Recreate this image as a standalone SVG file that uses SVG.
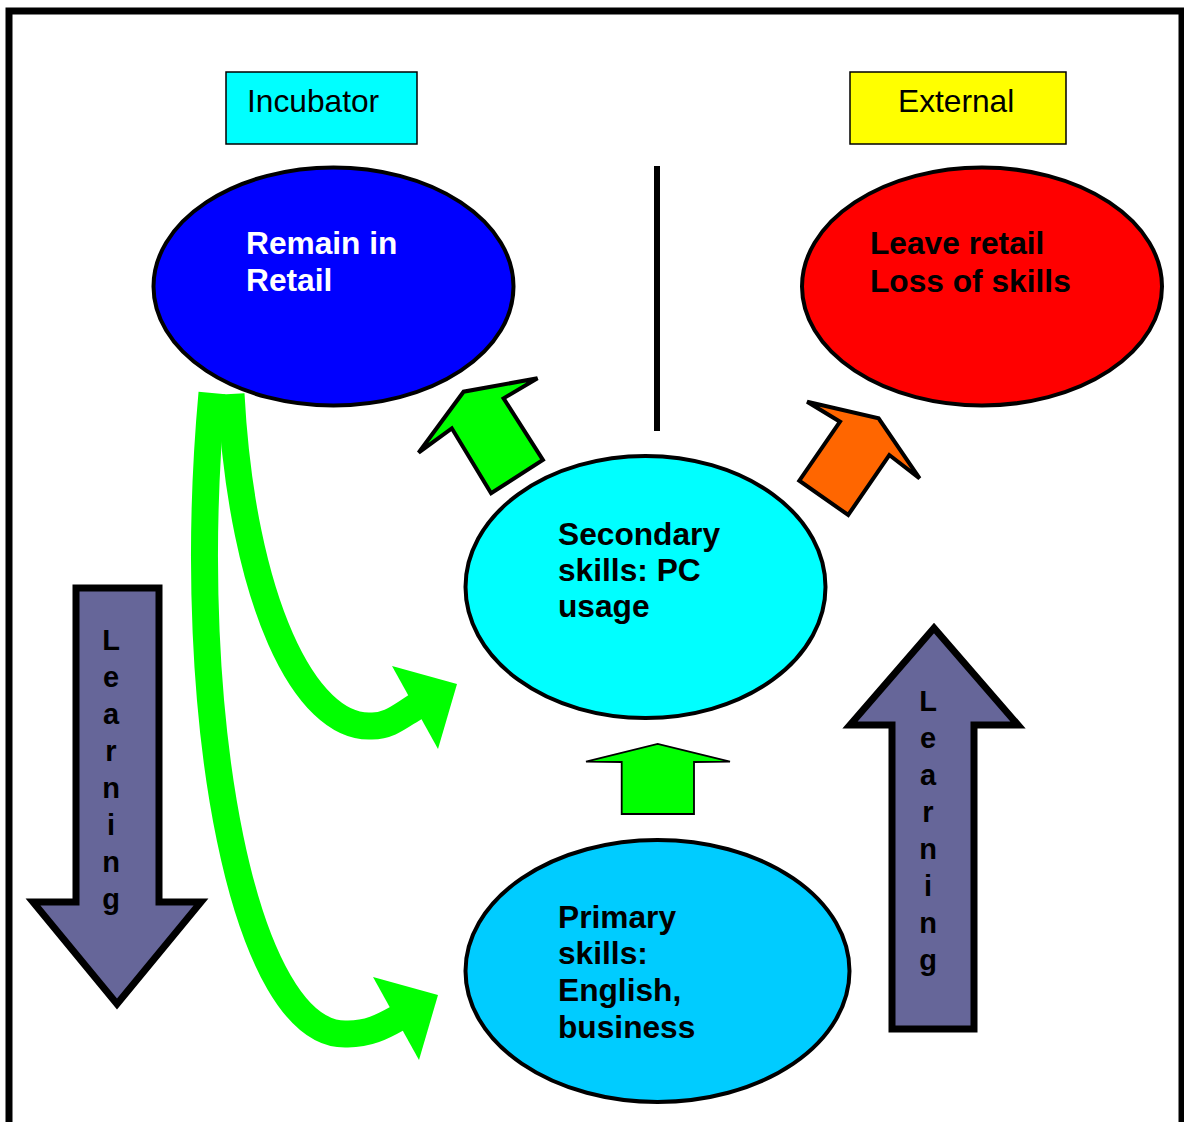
<svg xmlns="http://www.w3.org/2000/svg" width="1184" height="1122" viewBox="0 0 1184 1122">
<style>
.lbl{font-family:"Liberation Sans",Arial,sans-serif;font-size:31.7px;}
.b{font-weight:bold;}
.ell{stroke:#000;stroke-width:4;}
.box{stroke:#000;stroke-width:1.5;}
.learn{fill:#666699;stroke:#000;stroke-width:7;stroke-miterlimit:10;}
.lt{font-family:"Liberation Sans",Arial,sans-serif;font-size:29px;font-weight:bold;text-anchor:middle;}
.band{fill:none;stroke:#00FF00;stroke-width:27;}
</style>
<rect x="0" y="0" width="1184" height="1122" fill="#fff"/>
<rect x="9" y="11" width="1173" height="1130" fill="none" stroke="#000" stroke-width="7"/>

<g id="incubator">
<rect class="box" x="226" y="72" width="191" height="72" fill="#00FFFF"/>
<text class="lbl" x="247" y="112">Incubator</text>
</g>
<g id="external">
<rect class="box" x="850" y="72" width="216" height="72" fill="#FFFF00"/>
<text class="lbl" x="898" y="112">External</text>
</g>

<line x1="657" y1="166" x2="657" y2="431" stroke="#000" stroke-width="6"/>

<g id="remain">
<ellipse class="ell" cx="333.5" cy="286.5" rx="180" ry="119" fill="#0000FF"/>
<text class="lbl b" x="246" y="254" fill="#fff">Remain in</text>
<text class="lbl b" x="246" y="291" fill="#fff">Retail</text>
</g>
<g id="leave">
<ellipse class="ell" cx="982" cy="286.5" rx="180" ry="119" fill="#FF0000"/>
<text class="lbl b" x="870" y="254">Leave retail</text>
<text class="lbl b" x="870" y="292">Loss of skills</text>
</g>
<g id="secondary">
<ellipse class="ell" cx="645.5" cy="587" rx="180" ry="131" fill="#00FFFF"/>
<text class="lbl b" x="558" y="545">Secondary</text>
<text class="lbl b" x="558" y="581">skills: PC</text>
<text class="lbl b" x="558" y="617">usage</text>
</g>
<g id="primary">
<ellipse class="ell" cx="657.5" cy="971" rx="192" ry="131" fill="#00CCFF"/>
<text class="lbl b" x="558" y="928">Primary</text>
<text class="lbl b" x="558" y="964">skills:</text>
<text class="lbl b" x="558" y="1001">English,</text>
<text class="lbl b" x="558" y="1038">business</text>
</g>

<g id="learning-down">
<polygon class="learn" points="76,588 159,588 159,902 201,902 117,1004 33,902 76,902"/>
<text class="lt" x="111" y="650">L</text>
<text class="lt" x="111" y="687">e</text>
<text class="lt" x="111" y="724">a</text>
<text class="lt" x="111" y="761">r</text>
<text class="lt" x="111" y="798">n</text>
<text class="lt" x="111" y="835">i</text>
<text class="lt" x="111" y="872">n</text>
<text class="lt" x="111" y="909">g</text>
</g>
<g id="learning-up">
<polygon class="learn" points="934,628 1018,725 974,725 974,1029 892,1029 892,725 850,725"/>
<text class="lt" x="928" y="711">L</text>
<text class="lt" x="928" y="748">e</text>
<text class="lt" x="928" y="785">a</text>
<text class="lt" x="928" y="822">r</text>
<text class="lt" x="928" y="859">n</text>
<text class="lt" x="928" y="896">i</text>
<text class="lt" x="928" y="933">n</text>
<text class="lt" x="928" y="970">g</text>
</g>

<g id="connectors">
<polygon points="537.5,378.3 463.6,391.7 418.6,452.7 451.8,428.3 491.1,493.3 542.9,460 503.6,398.3" fill="#00FF00" stroke="#000" stroke-width="4" stroke-linejoin="miter"/>
<polygon points="807.1,401.7 878.6,418.3 919.6,478.3 889.3,455 848.2,515 799.3,480.7 840,421.7" fill="#FF6600" stroke="#000" stroke-width="4" stroke-linejoin="miter"/>
<polygon points="586,761.7 657.7,744 730,761.7 694,762 694,814 621.7,814 621.7,762" fill="#00FF00" stroke="#000" stroke-width="1.8"/>
<path class="band" d="M231,394 C242,600 305,730 372,726 C390,726 400,716 417,706"/>
<polygon points="392,666 457,684 438,749" fill="#00FF00"/>
<path class="band" d="M212,393 C182,720 245,1040 348,1034 C368,1034 382,1027 398,1018"/>
<polygon points="373,977 438,995 419,1060" fill="#00FF00"/>
</g>
</svg>
